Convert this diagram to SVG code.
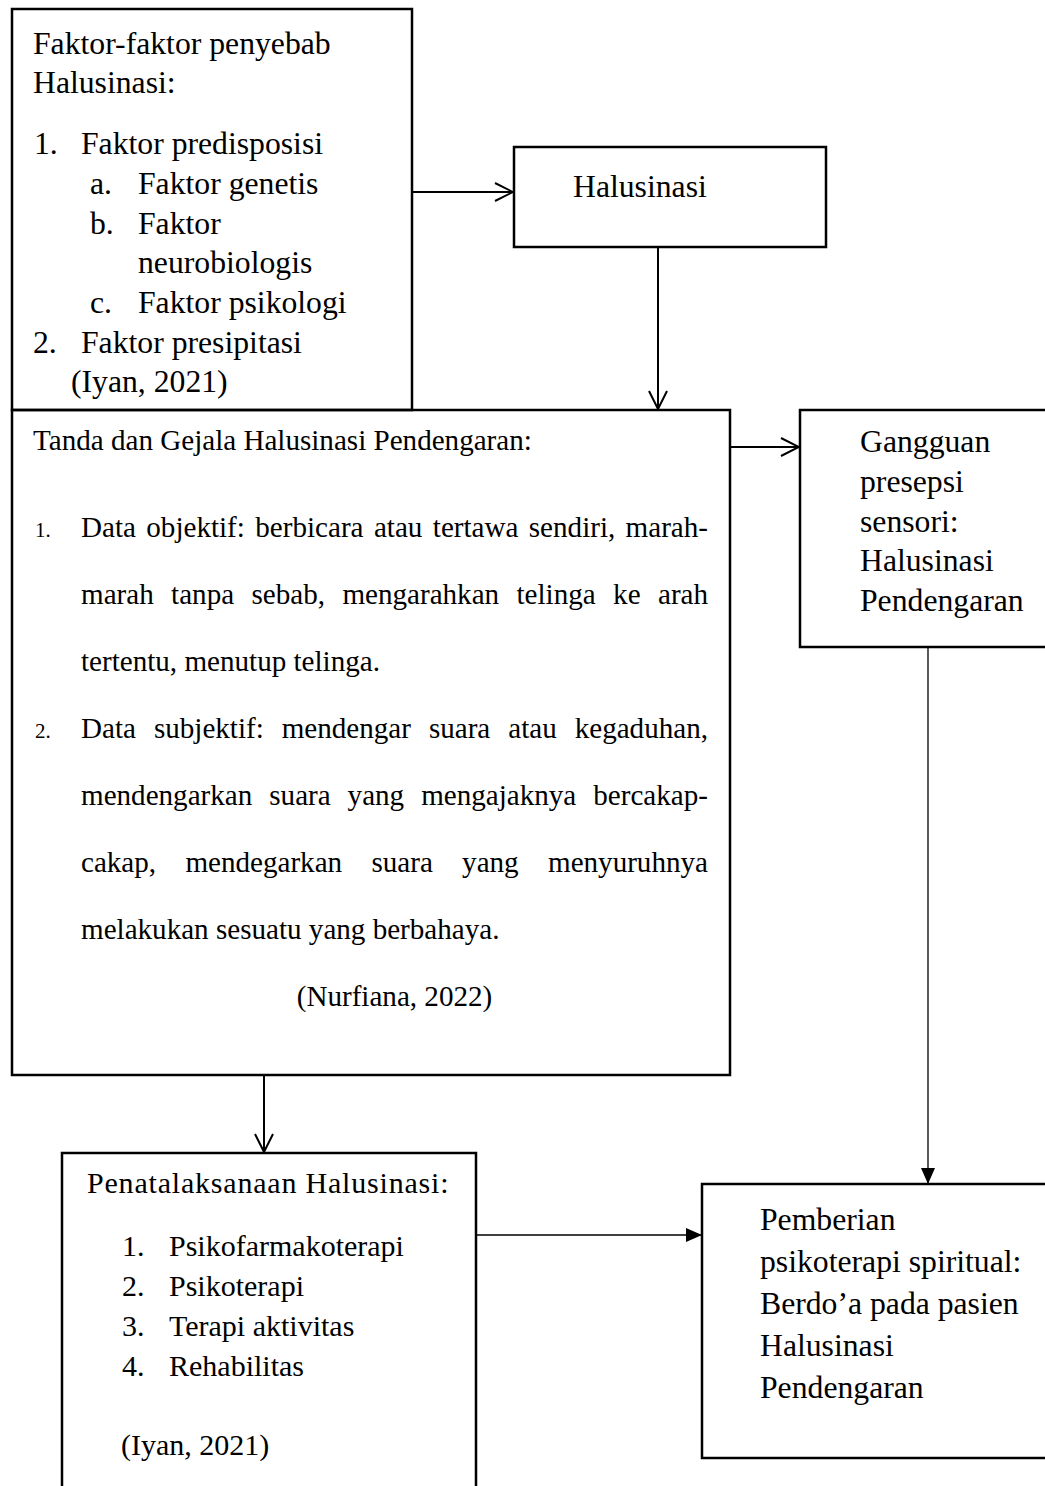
<svg xmlns="http://www.w3.org/2000/svg" width="1045" height="1486" viewBox="0 0 1045 1486">
<style>
.box{fill:none;stroke:#000;stroke-width:2.5}
.conn{fill:none;stroke:#000;stroke-width:2}
.thin{fill:none;stroke:#000;stroke-width:1.3}
text{font-family:"Liberation Serif","Times New Roman",serif;fill:#000}
.t32{font-size:31.7px}
.t30{font-size:30px}
.t29{font-size:29.1px}
.num{font-size:21px}
</style>
<defs>
<marker id="open" viewBox="0 0 20 20" refX="19" refY="10" markerWidth="20" markerHeight="20" markerUnits="userSpaceOnUse" orient="auto">
<path d="M1,1 L19,10 L1,19" fill="none" stroke="#000" stroke-width="2"/>
</marker>
<marker id="fill" viewBox="0 0 16 14" refX="16" refY="7" markerWidth="16" markerHeight="14" markerUnits="userSpaceOnUse" orient="auto">
<path d="M0,0 L16,7 L0,14 z" fill="#000"/>
</marker>
</defs>
<rect width="1045" height="1486" fill="#fff"/>

<g id="connectors">
<path class="conn" d="M412,192 H513" marker-end="url(#open)"/>
<path class="conn" d="M658,247 V409" marker-end="url(#open)"/>
<path class="conn" d="M730,447 H799" marker-end="url(#open)"/>
<path class="conn" d="M264,1075 V1152" marker-end="url(#open)"/>
<path class="thin" d="M928,647 V1184" marker-end="url(#fill)"/>
<path class="thin" d="M476,1235 H702" marker-end="url(#fill)"/>
</g>

<g id="faktor">
<rect class="box" x="12" y="9" width="400" height="401"/>
<g class="t32">
<text x="33" y="54">Faktor-faktor penyebab</text>
<text x="33" y="93">Halusinasi:</text>
<text x="34" y="154">1.</text><text x="81" y="154">Faktor predisposisi</text>
<text x="90" y="194">a.</text><text x="138" y="194">Faktor genetis</text>
<text x="90" y="234">b.</text><text x="138" y="234">Faktor</text>
<text x="138" y="273">neurobiologis</text>
<text x="90" y="313">c.</text><text x="138" y="313">Faktor psikologi</text>
<text x="33" y="353">2.</text><text x="81" y="353">Faktor presipitasi</text>
<text x="71" y="392">(Iyan, 2021)</text>
</g>
</g>

<g id="halusinasi">
<rect class="box" x="514" y="147" width="312" height="100"/>
<text class="t32" x="573" y="197">Halusinasi</text>
</g>

<g id="tanda">
<rect class="box" x="12" y="410" width="718" height="665"/>
<g class="t29">
<text x="33" y="450">Tanda dan Gejala Halusinasi Pendengaran:</text>
<text class="num" x="35" y="537">1.</text>
<text y="537"><tspan x="81">Data</tspan><tspan x="146.3">objektif:</tspan><tspan x="255.3">berbicara</tspan><tspan x="373.9">atau</tspan><tspan x="432.8">tertawa</tspan><tspan x="528.8">sendiri,</tspan><tspan x="625.6">marah-</tspan></text>
<text y="604"><tspan x="81">marah</tspan><tspan x="171.1">tanpa</tspan><tspan x="251.5">sebab,</tspan><tspan x="342.4">mengarahkan</tspan><tspan x="516.5">telinga</tspan><tspan x="613.1">ke</tspan><tspan x="658">arah</tspan></text>
<text x="81" y="671">tertentu, menutup telinga.</text>
<text class="num" x="35" y="738">2.</text>
<text y="738"><tspan x="81">Data</tspan><tspan x="153.9">subjektif:</tspan><tspan x="281.7">mendengar</tspan><tspan x="428.9">suara</tspan><tspan x="508.3">atau</tspan><tspan x="574.7">kegaduhan,</tspan></text>
<text y="805"><tspan x="81">mendengarkan</tspan><tspan x="269.3">suara</tspan><tspan x="347.6">yang</tspan><tspan x="421.2">mengajaknya</tspan><tspan x="593.3">bercakap-</tspan></text>
<text y="872"><tspan x="81">cakap,</tspan><tspan x="185.4">mendegarkan</tspan><tspan x="371.5">suara</tspan><tspan x="462.1">yang</tspan><tspan x="548">menyuruhnya</tspan></text>
<text x="81" y="939">melakukan sesuatu yang berbahaya.</text>
<text x="394.5" y="1006" text-anchor="middle">(Nurfiana, 2022)</text>
</g>
</g>

<g id="gangguan">
<path class="box" d="M1046,410 H800 V647 H1046"/>
<g class="t32">
<text x="860" y="452">Gangguan</text>
<text x="860" y="492">presepsi</text>
<text x="860" y="532">sensori:</text>
<text x="860" y="571">Halusinasi</text>
<text x="860" y="611">Pendengaran</text>
</g>
</g>

<g id="penatalaksanaan">
<path class="box" d="M62,1490 V1153 H476 V1490"/>
<g class="t30">
<text x="87" y="1193" letter-spacing="0.8">Penatalaksanaan Halusinasi:</text>
<text x="122" y="1256">1.</text><text x="169" y="1256">Psikofarmakoterapi</text>
<text x="122" y="1296">2.</text><text x="169" y="1296">Psikoterapi</text>
<text x="122" y="1336">3.</text><text x="169" y="1336">Terapi aktivitas</text>
<text x="122" y="1376">4.</text><text x="169" y="1376">Rehabilitas</text>
<text x="121" y="1455">(Iyan, 2021)</text>
</g>
</g>

<g id="pemberian">
<path class="box" d="M1046,1184 H702 V1458 H1046"/>
<g class="t32">
<text x="760" y="1230">Pemberian</text>
<text x="760" y="1272">psikoterapi spiritual:</text>
<text x="760" y="1314">Berdo’a pada pasien</text>
<text x="760" y="1356">Halusinasi</text>
<text x="760" y="1398">Pendengaran</text>
</g>
</g>
</svg>
